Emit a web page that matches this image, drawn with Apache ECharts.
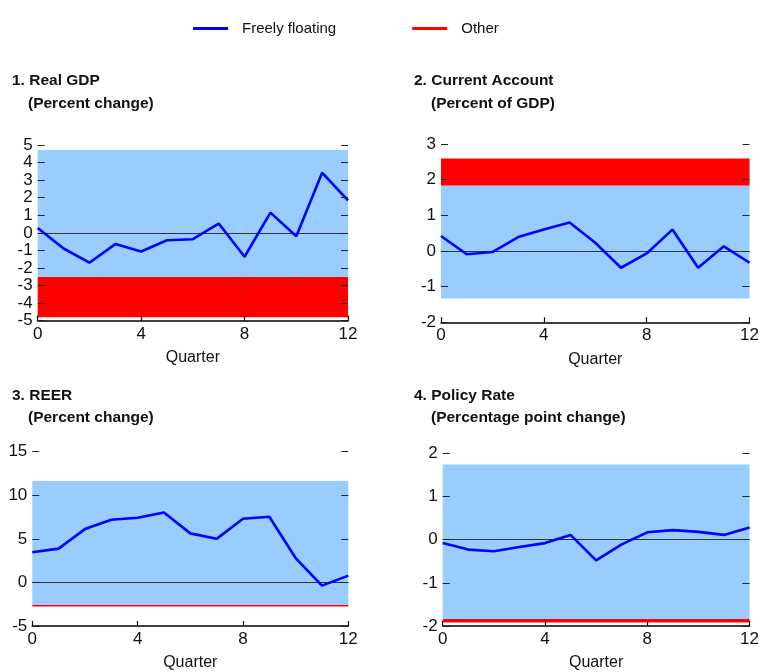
<!DOCTYPE html>
<html><head><meta charset="utf-8">
<script src="https://cdn.jsdelivr.net/npm/echarts@6/dist/echarts.min.js"></script>
<style>html,body{margin:0;padding:0;background:#fff}#c{width:762px;height:672px}</style>
</head><body><div id="c"></div>
<script>
const quarters = [0,1,2,3,4,5,6,7,8,9,10,11,12];
const gdpFloat = [0.28,-0.89,-1.7,-0.64,-1.06,-0.42,-0.36,0.53,-1.36,1.15,-0.19,3.42,1.85];
const gdpOther = [null,null,null,null,null,null,null,-2.03,-3.6,-1.45,-3.1,-1.1,null];
const caFloat = [0.42,-0.09,-0.03,0.39,0.6,0.8,0.23,-0.47,-0.07,0.6,-0.47,0.13,-0.33];
const reerFloat = [3.47,3.88,6.12,7.2,7.43,8.02,5.63,5.0,7.31,7.54,2.8,-0.37,0.78];
const rateFloat = [-0.08,-0.23,-0.27,-0.17,-0.08,0.11,-0.48,-0.11,0.17,0.22,0.18,0.11,0.28];
const floatBandLow  = [-2.5,-1.33,-2.57,-1.84];
const floatBandHigh = [4.72,1.83,11.65,1.74];
const otherBandLow  = [-4.81,1.83,-2.75,-1.92];
const otherBandHigh = [-2.5,2.59,-2.57,-1.84];
const titles = ["1. Real GDP","2. Current Account","3. REER","4. Policy Rate"];
const subtitles = ["(Percent change)","(Percent of GDP)","(Percent change)","(Percentage point change)"];
const yMin = [-5,-2,-5,-2];
const yMax = [5,3,15,2];
const yInterval = [1,1,5,1];
const xTicks = {min:0,max:12,interval:4};
const xName = "Quarter";
const legendNames = ["Freely floating","Other"];

const FONT = '"Liberation Sans", Arial, sans-serif';
const grids = [
  {left:37.7, top:145, width:310.3, height:175.7},
  {left:441, top:144, width:310.7, height:178.3},
  {left:32.3, top:451.7, width:316, height:178.3},
  {left:442.7, top:453.3, width:310.6, height:177.7}
];
const titlePos = [[12,80,28,103],[414,80,431,103],[12,395,28,417],[414,395,431,417]];
const floatSeries = [gdpFloat, caFloat, reerFloat, rateFloat];

const xAxes=[], yAxes=[], series=[], graphics=[];
for (let i=0;i<4;i++){
  xAxes.push({gridIndex:i,type:'value',min:xTicks.min,max:xTicks.max,interval:xTicks.interval,z:10,
    axisLine:{show:true,onZero:false,lineStyle:{color:'#000',width:1.5}},
    axisTick:{show:true,inside:true,length:5,lineStyle:{color:'#000',width:1.2}},
    splitLine:{show:false},
    axisLabel:{color:'#111',fontFamily:FONT,fontSize:17,margin:5},
    name:xName,nameLocation:'middle',nameGap:29,
    nameTextStyle:{color:'#111',fontFamily:FONT,fontSize:16}});
  const ya = {gridIndex:i,type:'value',min:yMin[i],max:yMax[i],interval:yInterval[i],z:10,
    axisLine:{show:false},
    axisTick:{show:true,inside:true,length:7,lineStyle:{color:'#222',width:1}},
    splitLine:{show:false}};
  yAxes.push(Object.assign({},ya,{position:'left',axisLabel:{color:'#111',fontFamily:FONT,fontSize:17,margin:5}}));
  yAxes.push(Object.assign({},ya,{position:'right',axisLabel:{show:false}}));
  // red band (Other)
  series.push({type:'line',name:'band-o'+i,xAxisIndex:i,yAxisIndex:2*i,data:[],z:1,silent:true,
    markArea:{silent:true,z:1,itemStyle:{color:'#ff0000'},
      data:[[{coord:[quarters[0],otherBandLow[i]]},{coord:[quarters[12],otherBandHigh[i]]}]]}});
  // blue band (Freely floating)
  series.push({type:'line',name:'band-f'+i,xAxisIndex:i,yAxisIndex:2*i,data:[],z:3,silent:true,
    markArea:{silent:true,z:3,itemStyle:{color:'#99ccff'},
      data:[[{coord:[quarters[0],floatBandLow[i]]},{coord:[quarters[12],floatBandHigh[i]]}]]}});
  // freely floating line
  series.push({type:'line',name:legendNames[0],xAxisIndex:i,yAxisIndex:2*i,z:5,
    data:quarters.map((q,k)=>[q,floatSeries[i][k]]),
    symbol:'none',lineStyle:{color:'#0000ff',width:2.6},itemStyle:{color:'#0000ff'},
    markLine:{silent:true,z:4,symbol:'none',label:{show:false},lineStyle:{color:'#333',width:1.2,type:'solid'},
      data:[{yAxis:0}]}});
  graphics.push({type:'text',left:titlePos[i][0],top:titlePos[i][1]-7,style:{text:titles[i],font:'bold 15.5px '+FONT,fill:'#111'}});
  graphics.push({type:'text',left:titlePos[i][2],top:titlePos[i][3]-7,style:{text:subtitles[i],font:'bold 15.5px '+FONT,fill:'#111'}});
}
// Other line (only visible part in panel 1)
series.push({type:'line',name:legendNames[1],xAxisIndex:0,yAxisIndex:0,z:2,connectNulls:false,
  data:quarters.map((q,k)=>[q,gdpOther[k]]),symbol:'none',
  lineStyle:{color:'rgba(160,30,30,0.3)',width:2},itemStyle:{color:'#ff0000'}});

const chart = echarts.init(document.getElementById('c'),null,{renderer:'canvas'});
chart.setOption({
  animation:false,
  grid:grids,
  xAxis:xAxes,
  yAxis:yAxes,
  legend:{left:193,top:21,padding:0,itemWidth:35,itemHeight:3,itemGap:76,icon:'rect',
    textStyle:{fontFamily:FONT,fontSize:15,color:'#111',padding:[0,0,0,9]},
    data:[{name:legendNames[0],itemStyle:{color:'#0000ff'}},{name:legendNames[1],itemStyle:{color:'#ff0000'}}]},
  series:series,
  graphic:graphics
});
</script></body></html>
